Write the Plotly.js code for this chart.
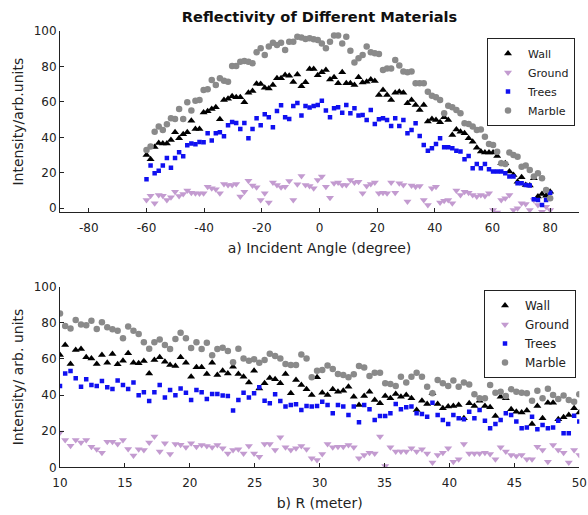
<!DOCTYPE html>
<html>
<head>
<meta charset="utf-8">
<script src="https://cdn.plot.ly/plotly-3.0.1.min.js"></script>
<style>html,body{margin:0;padding:0;background:#fff;}#chart{width:588px;height:515px;}</style>
</head>
<body>
<div id="chart"></div>
<script>
// ---- Panel a: incident angle (degree) ----
var angle = [
 -60, -58.59, -57.17, -55.76, -54.34, -52.93, -51.52, -50.10, -48.69, -47.27,
 -45.86, -44.44, -43.03, -41.62, -40.20, -38.79, -37.37, -35.96, -34.55, -33.13,
 -31.72, -30.30, -28.89, -27.47, -26.06, -24.65, -23.23, -21.82, -20.40, -18.99,
 -17.58, -16.16, -14.75, -13.33, -11.92, -10.51, -9.09, -7.68, -6.26, -4.85,
 -3.43, -2.02, -0.61, 0.81, 2.22, 3.64, 5.05, 6.46, 7.88, 9.29,
 10.71, 12.12, 13.54, 14.95, 16.36, 17.78, 19.19, 20.61, 22.02, 23.43,
 24.85, 26.26, 27.68, 29.09, 30.51, 31.92, 33.33, 34.75, 36.16, 37.58,
 38.99, 40.40, 41.82, 43.23, 44.65, 46.06, 47.47, 48.89, 50.30, 51.72,
 53.13, 54.55, 55.96, 57.37, 58.79, 60.20, 61.62, 63.03, 64.44, 65.86,
 67.27, 68.69, 70.10, 71.52, 72.93, 74.34, 75.76, 77.17, 78.59, 80
];
var wallA = [
 30.1, 27.6, 34.6, 36.8, 36.5, 36.5, 38.5, 42.9, 39.5, 41.7,
 42.9, 49.4, 44.7, 44.7, 54.1, 54.7, 56.0, 57.0, 50.2, 61.1,
 61.8, 63.2, 62.6, 62.6, 59.8, 65.2, 66.2, 70.3, 70.1, 68.0,
 67.5, 69.5, 73.3, 73.3, 75.2, 74.8, 71.2, 75.4, 68.8, 71.1,
 78.6, 78.6, 75.0, 76.7, 78.0, 72.7, 73.9, 70.5, 76.7, 70.5,
 70.5, 69.5, 73.9, 70.9, 71.4, 72.7, 71.8, 63.9, 66.7, 63.9,
 61.1, 65.2, 65.8, 65.2, 59.2, 61.1, 58.3, 55.5, 58.3, 48.9,
 50.4, 49.8, 48.5, 51.3, 49.8, 41.4, 44.5, 43.2, 42.3, 39.5,
 37.6, 34.2, 32.0, 31.4, 31.4, 31.4, 29.5, 25.4, 25.4, 20.7,
 18.8, 15.0, 17.5, 13.2, 12.8, 16.9, 6.6, 8.1, 7.1, 9.4
];
var groundA = [
 4.7, 7.1, 2.8, 7.5, 7.1, 4.7, 6.2, 9.4, 7.0, 8.1,
 10.0, 8.8, 8.5, 8.3, 8.5, 12.2, 11.3, 10.7, 8.5, 13.7,
 13.2, 13.2, 13.7, 6.6, 9.4, 15.6, 12.8, 11.8, 4.7, 8.5,
 3.2, 14.5, 13.2, 11.8, 12.2, 15.4, 4.7, 13.5, 18.2, 13.2,
 12.6, 11.3, 16.0, 17.9, 12.2, 6.0, 14.1, 14.5, 13.2, 13.2,
 16.0, 14.5, 15.0, 8.5, 12.6, 13.7, 14.5, 8.5, 8.8, 8.5,
 14.5, 8.8, 14.1, 13.2, 3.8, 12.8, 12.2, 12.6, 4.7, 1.9,
 11.3, 12.2, 3.2, 4.3, 4.7, 2.8, 10.0, 7.5, 9.4, 8.8,
 7.5, 6.6, 7.5, 7.0, 8.5, -0.9, -2.4, 4.7, 5.6, 7.5,
 -0.9, 0.0, 2.8, 2.4, -0.9, 4.7, 1.9, -1.9, 0.9, -0.9
];
var treesA = [
 16.4, 24.2, 19.7, 21.2, 24.2, 28.4, 22.9, 28.4, 31.6, 29.3,
 35.5, 36.5, 36.1, 37.4, 37.2, 42.3, 38.3, 42.3, 42.9, 40.6,
 46.8, 48.7, 48.1, 44.7, 48.1, 39.5, 44.7, 50.8, 46.8, 53.0,
 51.3, 45.7, 54.9, 58.1, 51.3, 50.4, 57.7, 59.4, 52.4, 57.7,
 56.8, 57.7, 58.3, 60.7, 55.1, 51.3, 56.4, 57.0, 53.9, 58.3,
 53.6, 56.4, 52.3, 52.6, 49.8, 55.5, 47.6, 50.2, 50.8, 49.8,
 46.4, 50.8, 46.4, 49.8, 42.3, 44.2, 47.9, 40.8, 35.7, 32.5,
 33.8, 36.3, 39.5, 34.4, 34.4, 33.8, 32.5, 32.0, 27.6, 29.5,
 22.6, 25.0, 22.6, 25.0, 22.0, 20.7, 20.7, 20.7, 19.7, 17.9,
 17.9, 14.1, 14.1, 13.2, 12.8, 5.1, 4.7, 1.9, 4.7, 8.8
];
var marbleA = [
 32.9, 34.8, 43.2, 46.1, 44.2, 47.4, 50.8, 50.4, 56.0, 50.4,
 59.8, 55.1, 60.7, 61.1, 66.7, 67.1, 72.4, 69.5, 73.3, 72.0,
 71.4, 80.3, 80.3, 82.7, 83.1, 82.7, 81.8, 88.0, 90.2, 86.5,
 91.2, 93.4, 92.1, 93.4, 89.3, 94.0, 94.0, 96.8, 96.4, 95.5,
 95.9, 95.3, 94.9, 93.0, 90.2, 94.0, 97.4, 97.4, 93.0, 96.8,
 88.9, 82.3, 84.6, 86.5, 91.2, 88.0, 87.4, 87.0, 78.0, 78.9,
 78.9, 83.6, 80.5, 77.1, 76.7, 77.1, 70.5, 70.5, 70.5, 65.8,
 63.5, 62.6, 61.1, 53.6, 57.9, 57.0, 55.5, 53.6, 47.9, 47.6,
 46.1, 44.2, 44.5, 40.4, 36.3, 35.7, 31.9, 25.4, 25.0, 31.4,
 30.1, 29.1, 23.5, 24.1, 21.6, 17.9, 19.7, 16.9, 10.3, 5.6
];
var angleTickVals = [-80, -60, -40, -20, 0, 20, 40, 60, 80];
var angleTickText = ['-80', '-60', '-40', '-20', '0', '20', '40', '60', '80'];

// ---- Panel b: range R (meter) ----
var range = [
 10, 10.40, 10.81, 11.21, 11.62, 12.02, 12.42, 12.83, 13.23, 13.64,
 14.04, 14.44, 14.85, 15.25, 15.66, 16.06, 16.46, 16.87, 17.27, 17.68,
 18.08, 18.48, 18.89, 19.29, 19.70, 20.10, 20.51, 20.91, 21.31, 21.72,
 22.12, 22.53, 22.93, 23.33, 23.74, 24.14, 24.55, 24.95, 25.35, 25.76,
 26.16, 26.57, 26.97, 27.37, 27.78, 28.18, 28.59, 28.99, 29.39, 29.80,
 30.20, 30.61, 31.01, 31.41, 31.82, 32.22, 32.63, 33.03, 33.43, 33.84,
 34.24, 34.65, 35.05, 35.45, 35.86, 36.26, 36.67, 37.07, 37.47, 37.88,
 38.28, 38.69, 39.09, 39.49, 39.90, 40.30, 40.71, 41.11, 41.52, 41.92,
 42.32, 42.73, 43.13, 43.54, 43.94, 44.34, 44.75, 45.15, 45.56, 45.96,
 46.36, 46.77, 47.17, 47.58, 47.98, 48.38, 48.79, 49.19, 49.60, 50
];
var wallB = [
 62.2, 67.7, 57.2, 64.9, 65.5, 60.9, 60.3, 57.2, 62.2, 57.9,
 62.7, 57.0, 59.0, 63.1, 57.9, 57.6, 58.9, 52.0, 59.4, 60.9,
 58.5, 56.6, 56.1, 60.9, 57.9, 50.2, 55.4, 55.4, 51.7, 57.9,
 51.1, 53.5, 52.0, 55.7, 51.7, 50.2, 46.9, 53.5, 43.7, 46.5,
 49.4, 48.7, 46.5, 51.7, 41.0, 48.3, 45.6, 43.2, 40.0, 49.8,
 41.3, 40.0, 43.2, 41.9, 42.4, 44.6, 39.1, 34.5, 39.5, 41.9,
 37.3, 35.4, 39.5, 38.2, 40.6, 39.1, 40.0, 38.2, 31.7, 36.9,
 35.1, 41.0, 35.1, 32.7, 33.6, 33.9, 34.5, 27.1, 35.4, 33.9,
 36.9, 33.9, 33.2, 28.4, 39.1, 38.2, 32.1, 30.8, 30.3, 31.4,
 24.0, 33.9, 27.1, 35.8, 35.8, 26.6, 27.7, 29.0, 32.7, 30.3
];
var groundB = [
 19.2, 15.1, 12.0, 15.1, 13.7, 15.1, 11.4, 10.0, 8.1, 14.2,
 14.2, 12.9, 15.1, 10.1, 6.5, 10.0, 9.6, 13.8, 17.0, 8.7,
 13.3, 7.4, 12.9, 12.5, 11.1, 13.3, 11.4, 12.4, 11.8, 11.1,
 12.4, 10.5, 7.7, 9.6, 10.0, 7.7, 11.8, 7.7, 5.9, 12.9,
 12.9, 9.6, 16.6, 11.1, 9.6, 10.5, 11.8, 10.0, 5.0, 4.1,
 7.4, 12.9, 11.1, 11.4, 11.4, 12.4, 11.1, 5.0, 6.8, 8.1,
 7.7, 17.0, 0.7, 11.1, 8.7, 8.7, 8.7, 10.5, 8.7, 10.0,
 7.7, 2.6, 6.8, 8.1, 10.5, 3.1, 4.4, 12.9, 7.7, 7.7,
 7.7, 8.1, 7.4, 4.4, 11.1, 8.7, 6.8, 6.3, 6.8, 4.4,
 4.4, 11.4, 9.6, 3.1, 12.4, 9.6, 8.1, 2.6, 9.6, 6.8
];
var treesB = [
 45.0, 52.0, 53.3, 49.3, 44.6, 48.7, 45.6, 45.0, 47.8, 44.3,
 43.4, 48.0, 45.6, 43.4, 47.0, 39.9, 41.5, 36.7, 41.5, 45.6,
 38.7, 42.8, 39.9, 43.7, 41.3, 37.3, 42.8, 41.5, 37.8, 40.6,
 40.6, 39.7, 39.5, 31.5, 37.3, 41.3, 38.7, 41.0, 44.3, 36.9,
 35.4, 40.4, 36.7, 33.6, 34.5, 34.9, 31.7, 33.9, 33.6, 33.9,
 36.3, 34.5, 29.9, 34.5, 33.6, 29.0, 33.6, 24.9, 34.5, 32.1,
 26.2, 28.4, 28.4, 29.9, 35.1, 32.1, 33.2, 33.6, 29.9, 29.5,
 28.0, 35.8, 29.0, 26.2, 24.0, 29.0, 27.1, 26.6, 30.8, 27.1,
 31.7, 25.8, 21.6, 24.0, 26.2, 29.9, 29.0, 25.3, 21.6, 22.1,
 28.0, 21.0, 23.4, 21.6, 22.0, 25.8, 18.8, 18.8, 28.6, 25.3
];
var marbleB = [
 85.2, 78.2, 76.9, 81.5, 79.1, 78.7, 81.2, 76.6, 80.3, 77.5,
 76.4, 75.6, 71.4, 77.9, 75.6, 73.8, 69.2, 65.7, 69.2, 70.8,
 67.7, 65.5, 71.0, 74.5, 71.4, 66.1, 69.2, 65.5, 69.0, 62.0,
 65.5, 66.2, 64.4, 58.1, 65.7, 60.3, 59.0, 59.8, 57.9, 59.4,
 62.9, 61.6, 60.3, 57.2, 56.6, 56.6, 62.5, 60.3, 49.8, 53.5,
 53.9, 56.3, 54.4, 51.7, 51.1, 49.8, 51.5, 56.1, 55.2, 50.6,
 52.4, 52.4, 46.5, 46.1, 45.0, 50.2, 46.9, 50.2, 52.4, 50.2,
 44.6, 41.0, 48.3, 46.5, 45.0, 48.0, 44.6, 46.9, 45.9, 40.4,
 38.2, 38.2, 45.6, 41.3, 41.9, 39.5, 43.2, 41.9, 41.3, 41.0,
 36.9, 42.4, 38.2, 43.5, 40.0, 37.8, 39.7, 37.3, 36.3, 40.4
];

var seriesNames = ['Wall', 'Ground', 'Trees', 'Marble'];
var xTitleA = 'a) Incident Angle (degree)';
var xTitleB = 'b) R (meter)';
var yTitleA = 'Intensity/arb.units';
var yTitleB = 'Intensity/ arb. units';
var chartTitle = 'Reflectivity of Different Materials';

var styles = [
  {symbol: 'triangle-up', color: '#000000', size: 7},
  {symbol: 'triangle-down', color: '#c39bd0', size: 7},
  {symbol: 'square', color: '#1010f0', size: 4.5},
  {symbol: 'circle', color: '#8a8a8a', size: 6.5}
];

var dataA = [wallA, groundA, treesA, marbleA];
var dataB = [wallB, groundB, treesB, marbleB];
var traces = [];
dataA.forEach(function (ys, k) {
  traces.push({
    type: 'scatter', mode: 'markers', x: angle, y: ys, name: seriesNames[k],
    xaxis: 'x', yaxis: 'y', legend: 'legend',
    marker: {symbol: styles[k].symbol, color: styles[k].color, size: styles[k].size, line: {width: 0}}
  });
});
dataB.forEach(function (ys, k) {
  traces.push({
    type: 'scatter', mode: 'markers', x: range, y: ys, name: seriesNames[k],
    xaxis: 'x2', yaxis: 'y2', legend: 'legend2',
    marker: {symbol: styles[k].symbol, color: styles[k].color, size: styles[k].size, line: {width: 0}}
  });
});

var W = 588, H = 515;
function px(v) { return v / W; }
function py(v) { return 1 - v / H; }

var axCommon = {
  showgrid: false, zeroline: false, showline: true, linecolor: '#222', linewidth: 1,
  ticks: 'inside', ticklen: 4, tickcolor: '#222', mirror: false,
  tickfont: {family: 'DejaVu Sans', size: 12, color: '#222'}
};
function ax(extra) { return Object.assign({}, axCommon, extra); }

var layout = {
  width: W, height: H,
  margin: {l: 0, r: 0, t: 0, b: 0},
  paper_bgcolor: '#ffffff', plot_bgcolor: '#ffffff',
  font: {family: 'DejaVu Sans', size: 12, color: '#222'},
  title: {
    text: '<b>' + chartTitle + '</b>',
    font: {family: 'DejaVu Sans', size: 14.6, color: '#111'},
    x: px(319.5), xanchor: 'center', xref: 'paper',
    y: py(17), yanchor: 'middle', yref: 'paper'
  },
  xaxis: ax({domain: [px(60), px(579)], range: [-90, 90], tickmode: 'array',
    tickvals: angleTickVals, ticktext: angleTickText, anchor: 'y', ticklabelstandoff: 4,
    title: {text: xTitleA, font: {size: 14}, standoff: 9}}),
  yaxis: ax({domain: [py(212.3), py(31)], range: [-2.26, 100], tick0: 0, dtick: 20, anchor: 'x',
    title: {text: yTitleA, font: {size: 14}, standoff: 6}}),
  xaxis2: ax({domain: [px(60), px(579.3)], range: [10, 50], tick0: 10, dtick: 5, anchor: 'y2',
    ticklabelstandoff: 4,
    title: {text: xTitleB, font: {size: 14}, standoff: 9}}),
  yaxis2: ax({domain: [py(467.3), py(286.7)], range: [0, 100], tick0: 0, dtick: 20, anchor: 'x2',
    title: {text: yTitleB, font: {size: 14}, standoff: 6}}),
  showlegend: true,
  legend: {
    x: px(487), y: py(38), xanchor: 'left', yanchor: 'top',
    bgcolor: '#ffffff', bordercolor: '#222', borderwidth: 1,
    font: {family: 'DejaVu Sans', size: 11, color: '#222'}, itemwidth: 30
  },
  legend2: {
    x: px(484), y: py(290), xanchor: 'left', yanchor: 'top',
    bgcolor: '#ffffff', bordercolor: '#222', borderwidth: 1,
    font: {family: 'DejaVu Sans', size: 12, color: '#222'}, itemwidth: 30
  }
};

Plotly.newPlot('chart', traces, layout, {displayModeBar: false, staticPlot: true});
</script>
</body>
</html>
